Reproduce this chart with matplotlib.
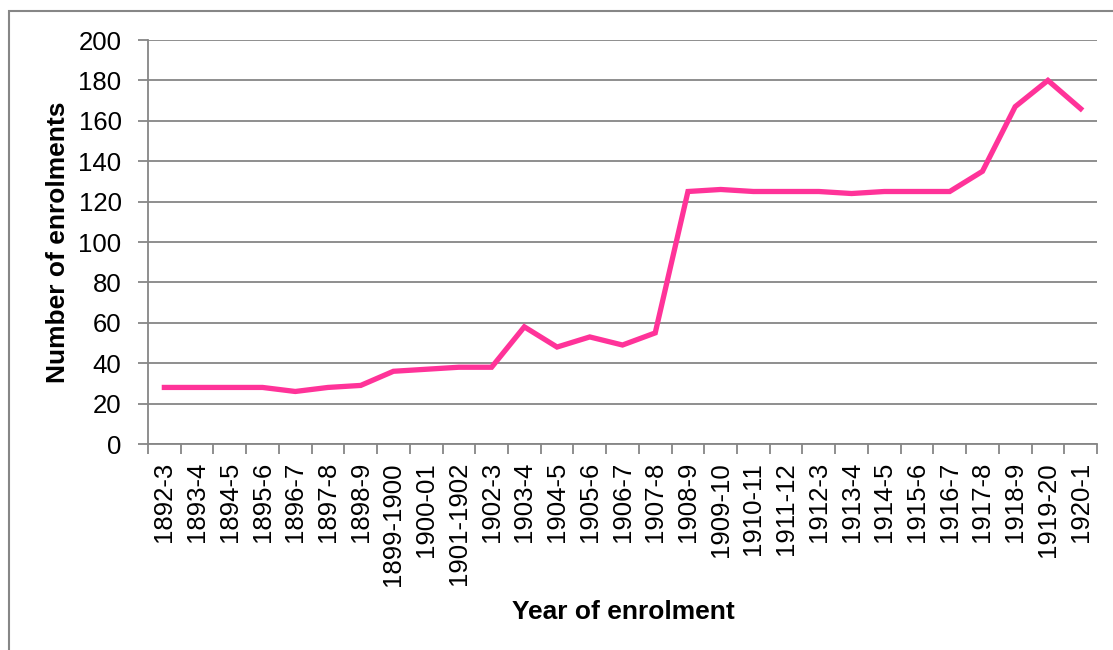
import matplotlib
matplotlib.use("Agg")
import matplotlib.pyplot as plt
from matplotlib.patches import Rectangle
from matplotlib.ticker import FixedLocator, MultipleLocator

plt.rcParams['font.family'] = ['Liberation Sans', 'DejaVu Sans']

years = ["1892-3", "1893-4", "1894-5", "1895-6", "1896-7", "1897-8", "1898-9",
         "1899-1900", "1900-01", "1901-1902", "1902-3", "1903-4", "1904-5",
         "1905-6", "1906-7", "1907-8", "1908-9", "1909-10", "1910-11", "1911-12",
         "1912-3", "1913-4", "1914-5", "1915-6", "1916-7", "1917-8", "1918-9",
         "1919-20", "1920-1"]
enrolments = [28, 28, 28, 28, 26, 28, 29, 36, 37, 38, 38, 58, 48, 53, 49, 55,
              125, 126, 125, 125, 125, 124, 125, 125, 125, 135, 167, 180, 166]

grey = "#868686"

fig = plt.figure(figsize=(11.13, 6.5), dpi=100)
ax = fig.add_axes([148 / 1113, 1 - 444 / 650, (1097 - 148) / 1113, (444 - 40) / 650])

x = list(range(len(years)))
ax.plot(x, enrolments, color="#FF3399", lw=3.8, solid_joinstyle="miter", zorder=3)

ax.set_xlim(-0.5, len(years) - 0.5)
ax.set_ylim(0, 200)
ax.yaxis.set_major_locator(MultipleLocator(20))
ax.grid(axis="y", color=grey, lw=1.3)
ax.set_axisbelow(True)

ax.set_xticks(x)
ax.set_xticklabels(years, rotation=90, fontsize=18.5, va="top", ha="center")
ax.xaxis.set_minor_locator(FixedLocator([i - 0.5 for i in range(len(years) + 1)]))
ax.tick_params(axis="x", which="major", length=0, pad=13)
ax.tick_params(axis="x", which="minor", length=7, width=1.3, color=grey, direction="out")
ax.tick_params(axis="y", length=7, width=1.3, color=grey, labelsize=18.5, pad=12)

for side in ("top", "right"):
    ax.spines[side].set_visible(False)
for side in ("left", "bottom"):
    ax.spines[side].set_color(grey)
    ax.spines[side].set_linewidth(1.3)

fig.text(58 / 1113, 1 - 242 / 650, "Number of enrolments", fontsize=19,
         fontweight="bold", rotation=90, ha="center", va="center")
fig.text(623 / 1113, 1 - 612 / 650, "Year of enrolment", fontsize=19,
         fontweight="bold", ha="center", va="center")

fig.patches.append(Rectangle((8.5 / 1113, -0.05), 1.2, 1 - 10.5 / 650 + 0.05,
                             transform=fig.transFigure, fill=False,
                             edgecolor=grey, lw=1.5))

fig.savefig("out.png", dpi=100)
